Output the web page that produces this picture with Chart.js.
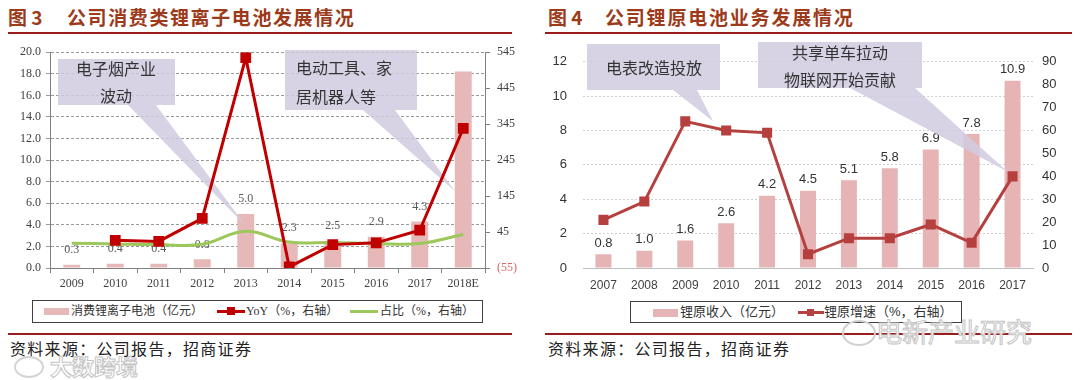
<!DOCTYPE html>
<html>
<head>
<meta charset="utf-8">
<script src="https://cdn.jsdelivr.net/npm/chart.js@4.4.0/dist/chart.umd.min.js"></script>
<style>
  body { margin: 0; background: #fff; width: 1080px; height: 380px; position: relative; overflow: hidden;
         font-family: "Noto Sans CJK SC", sans-serif; }
  .abs { position: absolute; }
  .title { top: 5px; font-size: 19px; font-weight: bold; color: #9c3a1a; white-space: nowrap; line-height: 24px; }
  .rule { height: 2px; background: #9b1c1c; }
  .source { top: 337px; font-size: 16px; color: #222; letter-spacing: 1.3px; white-space: nowrap; line-height: 22px; }
  .legend { border: 1px solid #404040; background: #fff; box-sizing: border-box; }
  .legend span { position: absolute; white-space: nowrap; font-size: 12px; color: #333; line-height: 14px; }
  .swatch { position: absolute; background: #e6b9b8; }
  .lineSw { position: absolute; height: 3px; }
  .sq { position: absolute; }
  .wm { color: #fff; -webkit-text-stroke: 1px #c4c4c4; white-space: nowrap; }
</style>
</head>
<body>
<div class="abs title" style="left:8px">图 3</div>
<div class="abs title" style="left:67px;letter-spacing:1.6px">公司消费类锂离子电池发展情况</div>
<div class="abs rule" style="left:8px;top:32px;width:504px"></div>
<div class="abs title" style="left:548px">图 4</div>
<div class="abs title" style="left:605px;letter-spacing:1.8px">公司锂原电池业务发展情况</div>
<div class="abs rule" style="left:545px;top:32px;width:527px"></div>

<canvas id="c1" class="abs" style="left:0;top:38px" width="540" height="262"></canvas>
<canvas id="c2" class="abs" style="left:540px;top:38px" width="540" height="262"></canvas>

<div class="abs legend" style="left:32px;top:300px;width:451px;height:23px;font-family:'Liberation Serif','Noto Sans CJK SC',serif">
  <div class="swatch" style="left:11px;top:7px;width:25px;height:7px"></div>
  <span style="left:38px;top:3px">消费锂离子电池（亿元）</span>
  <div class="lineSw" style="left:184px;top:9px;width:28px;background:#c00000"></div>
  <div class="sq" style="left:194px;top:6px;width:8px;height:8px;background:#c00000"></div>
  <span style="left:213px;top:3px">YoY（%，右轴）</span>
  <div class="lineSw" style="left:317px;top:9px;width:28px;background:#9bc75b"></div>
  <span style="left:347px;top:3px">占比（%，右轴）</span>
</div>

<div class="abs legend" style="left:630px;top:301px;width:332px;height:22px;font-family:'Liberation Sans','Noto Sans CJK SC',sans-serif">
  <div class="swatch" style="left:22px;top:7px;width:25px;height:8px;background:#e6b4b4"></div>
  <span style="left:49px;top:3px;font-size:13px">锂原收入（亿元）</span>
  <div class="lineSw" style="left:167px;top:9px;width:26px;background:#b5403f"></div>
  <div class="sq" style="left:176px;top:7px;width:7px;height:7px;background:#b5403f"></div>
  <span style="left:193px;top:3px;font-size:13px">锂原增速（%，右轴）</span>
</div>

<div class="abs rule" style="left:8px;top:333px;width:504px"></div>
<div class="abs rule" style="left:545px;top:333px;width:527px"></div>
<div class="abs source" style="left:10px">资料来源：公司报告，招商证券</div>
<div class="abs source" style="left:548px">资料来源：公司报告，招商证券</div>

<div class="abs wm" style="left:50px;top:352px;font-size:22px;line-height:26px;font-weight:bold">大数跨境</div>
<div class="abs" style="left:14px;top:356px;width:26px;height:18px;border:2px solid #d4d4d4;border-radius:50%"></div>
<div class="abs wm" style="left:876px;top:316px;font-size:26px;line-height:30px">电新产业研究</div>
<div class="abs" style="left:842px;top:320px;width:30px;height:22px;border:2px solid #d0d0d0;border-radius:50%"></div>

<script>
// 图3 公司消费类锂离子电池
const years1 = ['2009', '2010', '2011', '2012', '2013', '2014', '2015', '2016', '2017', '2018E'];
const consumerRev = [0.3, 0.4, 0.4, 0.8, 5.0, 2.3, 2.5, 2.9, 4.3, 18.2];
const consumerYoY = [null, 22, 19, 83, 530, -52, 10, 15, 50, 333];
const consumerShare = [14, 12, 10, 11, 47, 17, 16, 13, 13, 38];
const rightTicks1 = [-55, 45, 145, 245, 345, 445, 545];

// 图4 公司锂原电池
const years2 = ['2007', '2008', '2009', '2010', '2011', '2012', '2013', '2014', '2015', '2016', '2017'];
const primaryRev = [0.8, 1.0, 1.6, 2.6, 4.2, 4.5, 5.1, 5.8, 6.9, 7.8, 10.9];
const primaryGrowth = [21, 29, 64, 60, 59, 6, 13, 13, 19, 11, 40];

// value labels above bars (drawn right after the bars, under callouts and lines)
const barLabels = {
  id: 'barLabels',
  afterDatasetDraw(chart, args, opts) {
    if (args.index !== opts.datasetIndex) return;
    const data = chart.data.datasets[opts.datasetIndex].data;
    const ctx = chart.ctx;
    ctx.save();
    ctx.font = opts.font;
    ctx.fillStyle = opts.color;
    ctx.textAlign = 'center';
    ctx.textBaseline = 'middle';
    args.meta.data.forEach((bar, i) => {
      if (opts.skip && opts.skip.includes(chart.data.labels[i])) return;
      ctx.fillText(data[i].toFixed(1), bar.x, bar.y - opts.offset);
    });
    ctx.restore();
  }
};

// callout boxes, drawn after the bars and before the lines
const callouts = {
  id: 'callouts',
  afterDatasetDraw(chart, args, opts) {
    if (args.meta.type !== 'bar') return;
    const ctx = chart.ctx;
    ctx.save();
    opts.items.forEach(c => {
      const [bx, by, w, h] = c.box;
      const tx = chart.scales.x.getPixelForValue(c.tip.i) + (c.tip.dx || 0);
      const ty = chart.scales[c.tip.axis].getPixelForValue(c.tip.v);
      ctx.fillStyle = 'rgba(208,203,224,0.85)';
      ctx.beginPath();
      ctx.moveTo(bx, by);
      ctx.lineTo(bx + w, by);
      ctx.lineTo(bx + w, by + h);
      ctx.lineTo(c.base[1], by + h);
      ctx.lineTo(tx, ty);
      ctx.lineTo(c.base[0], by + h);
      ctx.lineTo(bx, by + h);
      ctx.closePath();
      ctx.fill();
      ctx.fillStyle = '#333';
      ctx.font = opts.font;
      ctx.textBaseline = 'middle';
      ctx.textAlign = c.align;
      c.lines.forEach((t, k) => ctx.fillText(t, c.tx, c.ty[k]));
    });
    ctx.restore();
  }
};

const serif = 'Liberation Serif';
const sans = 'Liberation Sans';

new Chart(document.getElementById('c1'), {
  type: 'bar',
  data: {
    labels: years1,
    datasets: [
      {
        type: 'line', label: 'YoY（%，右轴）', data: consumerYoY, yAxisID: 'y1', order: 0,
        borderColor: '#c00000', backgroundColor: '#c00000', borderWidth: 3,
        pointStyle: 'rect', pointRadius: 5.5, tension: 0
      },
      {
        type: 'line', label: '占比（%，右轴）', data: consumerShare, yAxisID: 'y1', order: 1,
        borderColor: '#9bc75b', borderWidth: 3, pointRadius: 0, tension: 0.4
      },
      {
        label: '消费锂离子电池（亿元）', data: consumerRev, yAxisID: 'y', order: 2,
        backgroundColor: '#e6b9b8', barPercentage: 0.39, categoryPercentage: 1
      }
    ]
  },
  options: {
    responsive: false,
    animation: false,
    layout: { padding: { top: 10, left: 0, right: 0, bottom: 0 }, autoPadding: false },
    plugins: {
      legend: { display: false },
      tooltip: { enabled: false },
      barLabels: { datasetIndex: 2, offset: 15, font: '12px ' + serif, color: '#595959', skip: ['2018E'] },
      callouts: {
        font: '16px "Noto Sans CJK SC"',
        items: [
          { box: [58, 21, 117, 46], base: [128, 156], tip: { i: 4, v: 3.9, axis: 'y' },
            lines: ['电子烟产业', '波动'], align: 'center', tx: 116, ty: [31, 58] },
          { box: [285, 12, 132, 60], base: [363, 395], tip: { i: 9, v: 7.1, axis: 'y', dx: -8 },
            lines: ['电动工具、家', '居机器人等'], align: 'left', tx: 296, ty: [30, 59] }
        ]
      }
    },
    scales: {
      x: {
        offset: true,
        grid: { offset: true, drawOnChartArea: false, tickLength: 5, color: '#808080' },
        border: { color: '#808080' },
        ticks: { font: { family: serif, size: 12 }, color: '#404040', padding: 4, maxRotation: 0 },
        afterFit: s => { s.height = 32; }
      },
      y: {
        min: 0, max: 20,
        ticks: { stepSize: 2, callback: v => v.toFixed(1), font: { family: serif, size: 12 }, color: '#404040', padding: 5 },
        grid: { color: '#9a9a9a', tickLength: 4, tickBorderDash: [] },
        border: { color: '#808080', dash: [3, 2] },
        afterFit: s => { s.width = 50; }
      },
      y1: {
        position: 'right', min: -55, max: 545,
        afterBuildTicks: s => { s.ticks = rightTicks1.map(v => ({ value: v })); },
        ticks: {
          callback: v => v < 0 ? '(' + (-v) + ')' : String(v),
          color: c => c.tick.value < 0 ? '#e06666' : '#404040',
          font: { family: serif, size: 12 }, padding: 7
        },
        grid: { drawOnChartArea: false, tickLength: 5, color: '#808080' },
        border: { color: '#808080' },
        afterFit: s => { s.width = 55; }
      }
    }
  },
  plugins: [barLabels, callouts]
});

new Chart(document.getElementById('c2'), {
  type: 'bar',
  data: {
    labels: years2,
    datasets: [
      {
        type: 'line', label: '锂原增速（%，右轴）', data: primaryGrowth, yAxisID: 'y1', order: 0,
        borderColor: '#b5403f', backgroundColor: '#b5403f', borderWidth: 3,
        pointStyle: 'rect', pointRadius: 5, tension: 0
      },
      {
        label: '锂原收入（亿元）', data: primaryRev, yAxisID: 'y', order: 1,
        backgroundColor: '#e6b4b4', barPercentage: 0.39, categoryPercentage: 1
      }
    ]
  },
  options: {
    responsive: false,
    animation: false,
    layout: { padding: { top: 10, left: 0, right: 0, bottom: 0 }, autoPadding: false },
    plugins: {
      legend: { display: false },
      tooltip: { enabled: false },
      barLabels: { datasetIndex: 1, offset: 11, font: '13px ' + sans, color: '#333' },
      callouts: {
        font: '16px "Noto Sans CJK SC"',
        items: [
          { box: [47, 6, 133, 46], base: [133, 157], tip: { i: 2.68, v: 64, axis: 'y1' },
            lines: ['电表改造投放'], align: 'center', tx: 114, ty: [30] },
          { box: [218, 4, 164, 46], base: [310, 375], tip: { i: 9.88, v: 42, axis: 'y1' },
            lines: ['共享单车拉动', '物联网开始贡献'], align: 'center', tx: 300, ty: [15, 42] }
        ]
      }
    },
    scales: {
      x: {
        offset: true,
        grid: { offset: true, drawOnChartArea: false, drawTicks: false },
        border: { color: '#bfbfbf' },
        ticks: { font: { family: sans, size: 12 }, color: '#404040', padding: 10, maxRotation: 0 },
        afterFit: s => { s.height = 32; }
      },
      y: {
        min: 0, max: 12,
        ticks: { stepSize: 2, font: { family: sans, size: 13 }, color: '#333', padding: 16 },
        grid: { color: '#d0d0d0', drawTicks: false },
        border: { display: false, dash: [2, 2] },
        afterFit: s => { s.width = 43; }
      },
      y1: {
        position: 'right', min: 0, max: 90,
        ticks: { stepSize: 10, font: { family: sans, size: 13 }, color: '#333', padding: 9 },
        grid: { drawOnChartArea: false, drawTicks: false },
        border: { display: false },
        afterFit: s => { s.width = 47; }
      }
    }
  },
  plugins: [barLabels, callouts]
});
</script>
</body>
</html>
